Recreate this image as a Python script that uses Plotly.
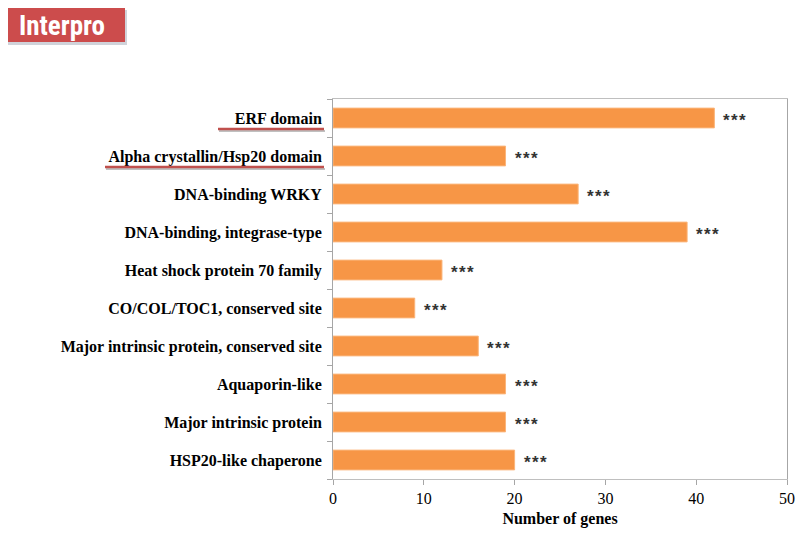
import plotly.graph_objects as go

categories = [
    "ERF domain",
    "Alpha crystallin/Hsp20 domain",
    "DNA-binding WRKY",
    "DNA-binding, integrase-type",
    "Heat shock protein 70 family",
    "CO/COL/TOC1, conserved site",
    "Major intrinsic protein, conserved site",
    "Aquaporin-like",
    "Major intrinsic protein",
    "HSP20-like chaperone",
]
gene_counts = [42, 19, 27, 39, 12, 9, 16, 19, 19, 20]
significance = ["***"] * len(categories)
x_ticks = [0, 10, 20, 30, 40, 50]

# page body has an 8px margin; figure drawn at (8, 8)
OFF = 8
W, H = 810 - OFF, 545 - OFF
L, T = 333 - OFF, 99 - OFF
PW, PH = 454, 380
R, B = W - L - PW, H - T - PH

def px(x):
    return (x - OFF - L) / PW

def py(y):
    return (T + PH - (y - OFF)) / PH

serif = "Liberation Serif, Times New Roman, serif"

fig = go.Figure()
fig.add_trace(go.Bar(
    y=categories, x=gene_counts, orientation="h",
    marker=dict(color="#F79646", line=dict(color="#FBB57A", width=1)),
    width=0.52,
    hoverinfo="x+y",
))

shapes = []
shapes.append(dict(type="rect", xref="paper", yref="paper",
                   x0=px(8), x1=px(127), y0=py(45), y1=py(10),
                   fillcolor="rgba(120,130,150,0.35)", line=dict(width=0), layer="below"))
shapes.append(dict(type="rect", xref="paper", yref="paper",
                   x0=px(6), x1=px(125), y0=py(42), y1=py(8),
                   fillcolor="#CC4C4C", line=dict(width=0)))
for x0, x1, yy in [(218, 324, 129), (105, 324, 167)]:
    shapes.append(dict(type="line", xref="paper", yref="paper",
                       x0=px(x0 + 1), x1=px(x1 + 1), y0=py(yy + 2), y1=py(yy + 2),
                       line=dict(color="rgba(150,150,150,0.6)", width=2)))
    shapes.append(dict(type="line", xref="paper", yref="paper",
                       x0=px(x0), x1=px(x1), y0=py(yy), y1=py(yy),
                       line=dict(color="#C0504D", width=2.5)))

annotations = [dict(
    text="<b>Interpro</b>", xref="paper", yref="paper",
    x=px(62), y=py(26), xanchor="center", yanchor="middle", showarrow=False,
    font=dict(family="Liberation Sans Narrow, Roboto Condensed, Roboto, sans-serif", size=27, color="white"),
)]
for c, v, s in zip(categories, gene_counts, significance):
    annotations.append(dict(
        text="<b>" + "\u200a".join(s) + "</b>", x=v, y=c, xref="x", yref="y",
        xanchor="left", yanchor="middle", xshift=7, yshift=-2, showarrow=False,
        font=dict(family="Liberation Sans, Arial, sans-serif", size=17, color="#333333"),
    ))

fig.update_layout(
    width=W, height=H,
    margin=dict(l=L, r=R, t=T, b=B, autoexpand=False),
    paper_bgcolor="white", plot_bgcolor="white",
    showlegend=False,
    shapes=shapes,
    annotations=annotations,
    xaxis=dict(
        range=[0, 50], tickvals=x_ticks, ticktext=[str(v) for v in x_ticks],
        showgrid=False, zeroline=False,
        showline=True, linecolor="#BFBFBF", linewidth=1, mirror=True,
        ticks="outside", ticklen=5, tickcolor="#A6A6A6",
        tickfont=dict(family=serif, size=16, color="black"),
        title=dict(text="<b>Number of genes</b>", font=dict(family=serif, size=16, color="black"), standoff=6),
    ),
    yaxis=dict(
        autorange="reversed", type="category",
        showgrid=False, zeroline=False,
        showline=True, linecolor="#A6A6A6", linewidth=1, mirror=True,
        ticks="outside", ticklen=5, tickcolor="#A6A6A6", tickson="boundaries",
        tickfont=dict(family=serif, size=16, color="black"),
        ticklabelstandoff=7,
    ),
)
fig.update_yaxes(ticktext=[f"<b>{c}</b>" for c in categories], tickvals=categories)

fig.write_html("out.html")
